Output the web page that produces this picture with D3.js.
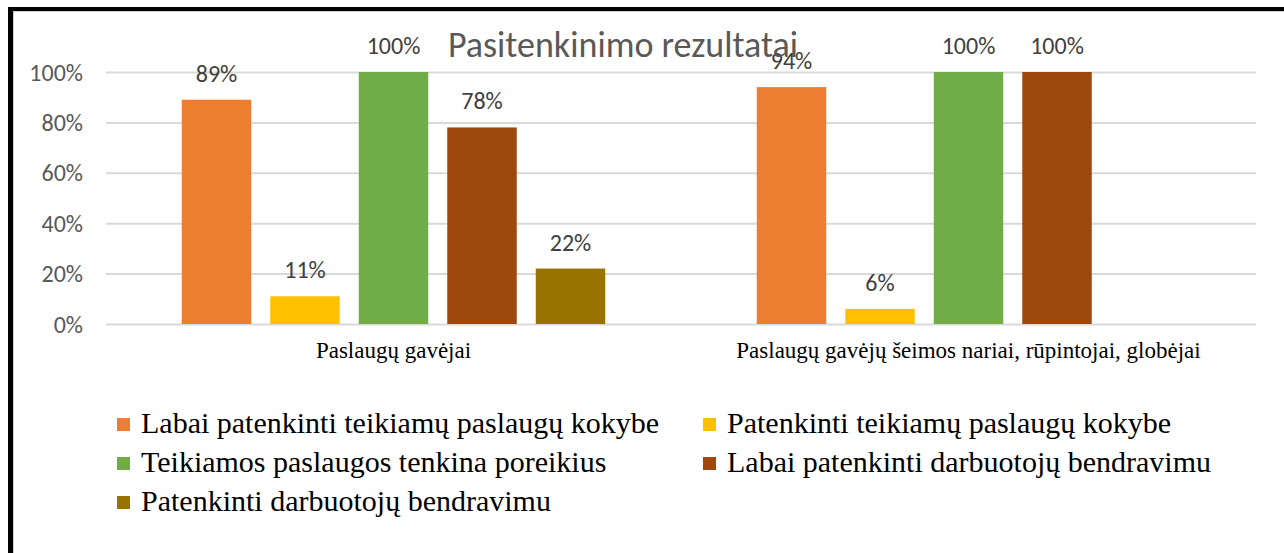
<!DOCTYPE html>
<html>
<head>
<meta charset="utf-8">
<script src="https://cdn.jsdelivr.net/npm/d3@7"></script>
</head>
<body style="margin:0">
<svg id="chart" width="1284" height="553"></svg>
<script>
const title = "Pasitenkinimo rezultatai";
const categories = ["Paslaugų gavėjai", "Paslaugų gavėjų šeimos nariai, rūpintojai, globėjai"];
const seriesNames = [
  "Labai patenkinti teikiamų paslaugų kokybe",
  "Patenkinti teikiamų paslaugų kokybe",
  "Teikiamos paslaugos tenkina poreikius",
  "Labai patenkinti darbuotojų bendravimu",
  "Patenkinti darbuotojų bendravimu"
];
const seriesColors = ["#ED7D31", "#FFC000", "#70AD47", "#9E480E", "#997300"];
// values per series, one per category (null = no bar)
const s1 = [89, 94];
const s2 = [11, 6];
const s3 = [100, 100];
const s4 = [78, 100];
const s5 = [22, null];
const seriesValues = [s1, s2, s3, s4, s5];
const yTicks = [0, 20, 40, 60, 80, 100];

const SANS = "Carlito";
const SERIF = "Liberation Serif";

const svg = d3.select("#chart");
const plot = { left: 106, right: 1256, top: 72, bottom: 324 };

const x0 = d3.scaleBand().domain(categories).range([plot.left, plot.right]).padding(0);
const innerPad = 75.75;
const x1 = d3.scaleBand().domain(d3.range(seriesNames.length))
  .range([innerPad, x0.bandwidth() - innerPad]).paddingInner(0.215).paddingOuter(0);
const y = d3.scaleLinear().domain([0, 100]).range([plot.bottom, plot.top]);

// gridlines + y labels
const yAxis = d3.axisLeft(y).tickValues(yTicks).tickSize(-(plot.right - plot.left))
  .tickFormat(d => d + "%").tickPadding(23);
const gy = svg.append("g").attr("transform", `translate(${plot.left},0)`).call(yAxis);
gy.select(".domain").remove();
gy.attr("font-family", SANS).attr("font-size", 24);
gy.selectAll(".tick line").attr("stroke", "#D9D9D9").attr("stroke-width", 2);
gy.selectAll(".tick text").attr("fill", "#595959").attr("dy", "0.34em");

// bars
const data = [];
categories.forEach((c, ci) => {
  seriesValues.forEach((vals, si) => {
    if (vals[ci] !== null) data.push({ cat: c, si, v: vals[ci] });
  });
});

svg.selectAll("rect.bar").data(data).join("rect").attr("class", "bar")
  .attr("x", d => x0(d.cat) + x1(d.si))
  .attr("width", x1.bandwidth())
  .attr("y", d => y(d.v))
  .attr("height", d => y(0) - y(d.v))
  .attr("fill", d => seriesColors[d.si]);

svg.selectAll("text.lbl").data(data).join("text").attr("class", "lbl")
  .attr("x", d => x0(d.cat) + x1(d.si) + x1.bandwidth() / 2)
  .attr("y", d => y(d.v) - 18)
  .attr("text-anchor", "middle")
  .attr("fill", "#404040")
  .attr("font-family", SANS).attr("font-size", 24)
  .text(d => d.v + "%");

// category axis labels
const xAxis = d3.axisBottom(x0).tickSize(0).tickPadding(0);
const gx = svg.append("g").attr("transform", `translate(0,${plot.bottom})`).call(xAxis);
gx.select(".domain").remove();
gx.attr("font-family", SERIF).attr("font-size", 23);
gx.selectAll(".tick text").attr("fill", "#000").attr("dy", 0).attr("y", 34);

// title
svg.append("text").attr("x", 623).attr("y", 57).attr("text-anchor", "middle")
  .attr("fill", "#595959").attr("font-family", SANS).attr("font-size", 36)
  .text(title);

// legend
const legCols = [117, 703];
const legRows = [433, 472, 511];
const gLeg = svg.append("g");
seriesNames.forEach((name, i) => {
  const cx = legCols[i % 2], cy = legRows[Math.floor(i / 2)];
  gLeg.append("rect").attr("x", cx).attr("y", cy - 15).attr("width", 13).attr("height", 13)
    .attr("fill", seriesColors[i]);
  gLeg.append("text").attr("x", cx + 24).attr("y", cy).attr("fill", "#000")
    .attr("font-family", SERIF).attr("font-size", 30).text(name);
});

// frame (black top and left border with faint inner shadow)
svg.append("line").attr("x1", 13).attr("x2", 1284).attr("y1", 11.5).attr("y2", 11.5)
  .attr("stroke", "#D0D0D0").attr("stroke-width", 1);
svg.append("line").attr("x1", 13.5).attr("x2", 13.5).attr("y1", 11).attr("y2", 553)
  .attr("stroke", "#D0D0D0").attr("stroke-width", 1);
svg.append("line").attr("x1", 8).attr("x2", 1284).attr("y1", 9).attr("y2", 9)
  .attr("stroke", "#000").attr("stroke-width", 4);
svg.append("line").attr("x1", 10.5).attr("x2", 10.5).attr("y1", 7).attr("y2", 553)
  .attr("stroke", "#000").attr("stroke-width", 5);
</script>
</body>
</html>
